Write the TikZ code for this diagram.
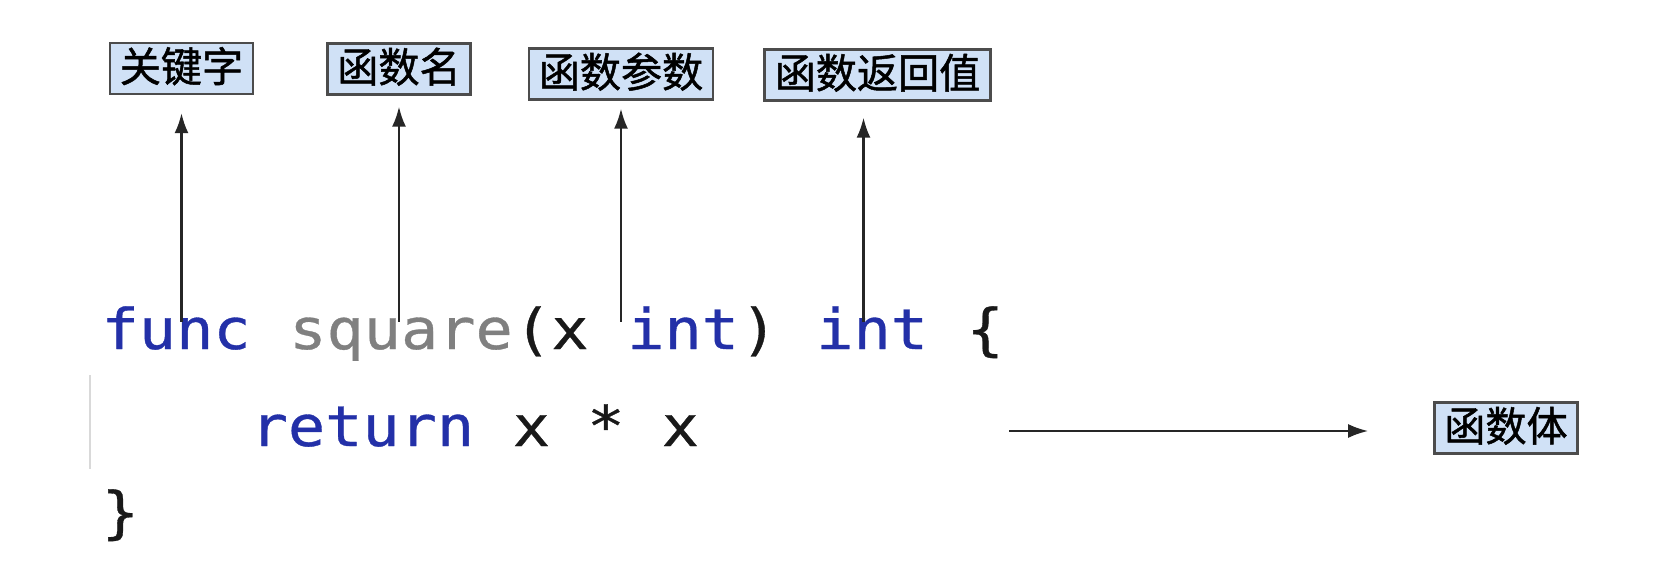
\documentclass[tikz,border=0pt]{standalone}
\usepackage{fontspec}
\usepackage{tikz}
\usetikzlibrary{positioning,arrows.meta}
\newfontfamily\codefont[FakeStretch=1.1, UprightFeatures={FakeBold=0.6}]{DejaVu Sans Mono}
\newfontfamily\cjk[UprightFeatures={FakeBold=1.2}]{Noto Sans CJK SC}
\definecolor{kwblue}{RGB}{35,48,168}
\definecolor{idgray}{RGB}{128,128,128}
\definecolor{codeblack}{RGB}{25,25,25}
\definecolor{tagblue}{RGB}{208,225,246}
\newlength{\cw}
\newcommand{\codesize}{\codefont\fontsize{16pt}{19pt}\selectfont}
\tikzset{
	tag/.style={draw=black!70, line width=0.7pt, fill=tagblue, font=\cjk\fontsize{11.7pt}{12pt}\selectfont, inner xsep=1mm, inner ysep=0pt, minimum height=5.1mm, text height=0.88em, text depth=0.12em},
	tok/.style={inner sep=0pt, font=\codesize, text height=0.75em, text depth=0.2em},
	pfeil/.style={-{Latex[length=2mm,width=1.4mm]}, line width=0.6pt, black!85}
}

\begin{document}
\settowidth{\cw}{\codesize x}%
\begin{tikzpicture}[x=0.1mm, y=-0.1mm]
			\useasboundingbox (0,0) rectangle (1678,574);
			\fill[white] (0,0) rectangle (1678,574);
			
			% Quelltext
			\node[tok, kwblue, anchor=base west] (kwfunc) at (101,349) {func};
			\node[tok, idgray, base right=\cw of kwfunc] (fname) {square};
			\node[tok, codeblack, base right=0pt of fname] (lpar) {(x};
			\node[tok, kwblue, base right=\cw of lpar] (ptype) {int};
			\node[tok, codeblack, base right=0pt of ptype] (rpar) {)};
			\node[tok, kwblue, base right=\cw of rpar] (rtype) {int};
			\node[tok, codeblack, base right=\cw of rtype] (lbrace) {\{};
			\node[tok, kwblue, anchor=base west] (kwret) at (250,446) {return};
			\node[tok, codeblack, base right=\cw of kwret] (rexpr) {x * x};
			\node[tok, codeblack, anchor=base west] (rbrace) at (101,532) {\}};
			\draw[black!15, line width=0.8pt] (90,375) -- (90,469);
			
			% Beschriftungen
			\node[tag] (lblkey) at (181.5,68.5) {关键字};
			\node[tag] (lblname) at (399,69) {函数名};
			\node[tag] (lblparam) at (621,74) {函数参数};
			\node[tag] (lblret) at (877.5,75) {函数返回值};
			\node[tag] (lblbody) at (1506,428) {函数体};
			
			% Pfeile
			\draw[pfeil, shorten >=1.8mm] (lblkey.south |- kwfunc.north) -- (lblkey.south);
			\draw[pfeil, shorten >=1.1mm] (lblname.south |- fname.north) -- (lblname.south);
			\draw[pfeil, shorten >=0.8mm] (lblparam.south |- ptype.north) -- (lblparam.south);
			\draw[pfeil, shorten >=1.6mm] ([xshift=-1.4mm]lblret.south |- rtype.north) -- ([xshift=-1.4mm]lblret.south);
			\coordinate (bodytail) at (1009,431);
			\draw[pfeil, shorten >=6.5mm] (bodytail) -- (bodytail -| lblbody.west);
		\end{tikzpicture}
\end{document}
